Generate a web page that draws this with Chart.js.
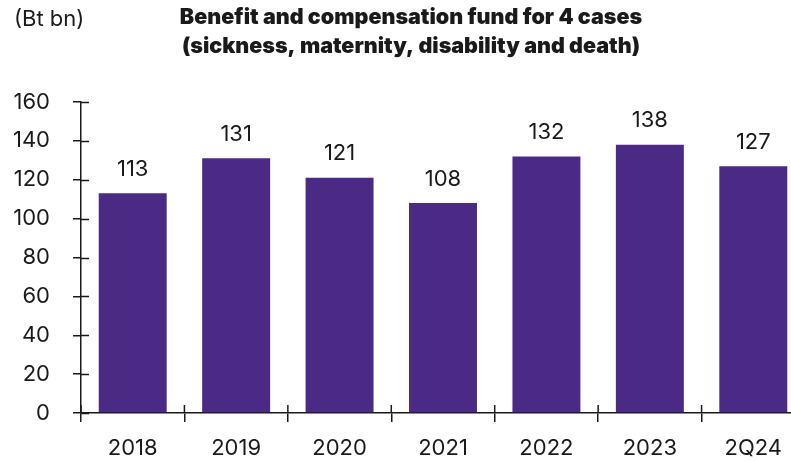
<!DOCTYPE html>
<html><head><meta charset="utf-8">
<script src="https://cdn.jsdelivr.net/npm/chart.js@4"></script>
<style>
html,body{margin:0;padding:0;background:#fff;overflow:hidden;}
#wrap{position:relative;width:791px;height:461px;overflow:hidden;}
#inner{position:absolute;left:0;top:0;width:820px;height:461px;}
</style></head>
<body>
<div id="wrap"><div id="inner"><canvas id="c" width="820" height="461"></canvas></div></div>
<script>
const categories = ['2018','2019','2020','2021','2022','2023','2Q24'];
const values = [113,131,121,108,132,138,127];
const unitLabel = '(Bt bn)';
const titleLines = ['Benefit and compensation fund for 4 cases','(sickness, maternity, disability and death)'];

const FONT = 'Inter, "Liberation Sans", sans-serif';
const INK = '#1a1a1a';

const overlay = {
  id: 'overlay',
  afterDraw(chart) {
    const ctx = chart.ctx;
    const x = chart.scales.x, y = chart.scales.y;
    ctx.save();
    ctx.strokeStyle = INK; ctx.lineWidth = 1.5;
    y.ticks.forEach((t, i) => {
      const py = Math.round(y.getPixelForTick(i)) + 0.5;
      ctx.beginPath(); ctx.moveTo(y.right, py); ctx.lineTo(y.right + 8, py); ctx.stroke();
    });
    for (let i = 0; i <= categories.length; i++) {
      const px = x.left + (x.right - x.left) * i / categories.length;
      ctx.beginPath(); ctx.moveTo(px, x.top); ctx.lineTo(px, x.top - 8); ctx.stroke();
    }
    ctx.fillStyle = INK;
    ctx.font = '400 22px ' + FONT;
    ctx.textAlign = 'center'; ctx.textBaseline = 'middle';
    chart.getDatasetMeta(0).data.forEach((bar, i) => {
      ctx.fillText(String(values[i]), bar.x, bar.y - 24);
    });
    ctx.textAlign = 'left';
    ctx.fillText(unitLabel, 14, 19);
    ctx.font = '900 21.5px ' + FONT;
    ctx.textAlign = 'center';
    ctx.fillText(titleLines[0], 411, 18);
    ctx.fillText(titleLines[1], 411, 47);
    ctx.restore();
  }
};

new Chart(document.getElementById('c'), {
  type: 'bar',
  data: {
    labels: categories,
    datasets: [{
      data: values,
      backgroundColor: '#4B2A85',
      borderWidth: 0,
      categoryPercentage: 1,
      barPercentage: 0.657
    }]
  },
  options: {
    responsive: false,
    animation: false,
    layout: { padding: { top: 102, left: 0, right: 15, bottom: 0 } },
    plugins: { legend: { display: false }, tooltip: { enabled: false }, title: { display: false } },
    scales: {
      x: {
        grid: { display: true, drawOnChartArea: false, offset: true, color: INK, lineWidth: 1.5, tickLength: 9, tickColor: INK },
        border: { display: true, color: INK, width: 1.5 },
        ticks: { color: INK, font: { family: FONT, size: 22 }, padding: 13, maxRotation: 0 },
        afterFit(s) { s.height = 48; }
      },
      y: {
        min: 0, max: 160,
        ticks: { stepSize: 20, color: INK, font: { family: FONT, size: 22 }, padding: 23 },
        grid: { display: true, drawOnChartArea: false, color: INK, lineWidth: 1.5, tickLength: 8, tickColor: INK },
        border: { display: true, color: INK, width: 1.5 },
        afterFit(s) { s.width = 81; }
      }
    }
  },
  plugins: [overlay]
});
</script>
</body></html>
